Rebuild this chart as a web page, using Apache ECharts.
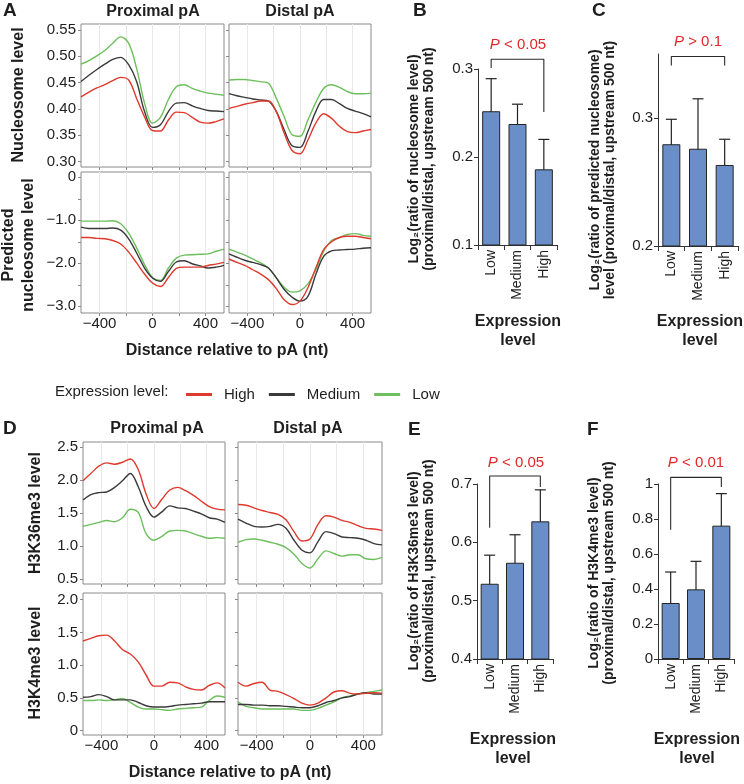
<!DOCTYPE html>
<html><head><meta charset="utf-8">
<script src="https://cdn.jsdelivr.net/npm/echarts@6/dist/echarts.min.js"></script>
<style>html,body{margin:0;padding:0;background:#fff}#c{width:744px;height:784px}</style>
</head><body><div id="c"></div>
<script>
// ---------- data ----------
const xs = [-540,-480,-420,-360,-300,-240,-180,-120,-60,0,60,120,180,240,300,360,420,480,540];
const levels = ['Low','Medium','High'];
const xTickVals = [-400,-200,0,200,400];
const xLabelVals = [-400,0,400];

// A: nucleosome level
const nucProxHigh = [0.423,0.432,0.440,0.446,0.454,0.460,0.455,0.420,0.385,0.359,0.358,0.379,0.394,0.393,0.384,0.375,0.373,0.376,0.381];
const nucProxMed  = [0.452,0.464,0.475,0.485,0.494,0.498,0.484,0.452,0.395,0.365,0.370,0.395,0.411,0.412,0.406,0.401,0.397,0.396,0.395];
const nucProxLow  = [0.485,0.492,0.501,0.511,0.525,0.537,0.525,0.477,0.411,0.373,0.384,0.418,0.442,0.446,0.439,0.434,0.430,0.428,0.426];
const nucDistHigh = [0.401,0.405,0.409,0.412,0.415,0.415,0.395,0.354,0.321,0.315,0.341,0.373,0.391,0.382,0.367,0.357,0.355,0.358,0.361];
const nucDistMed  = [0.429,0.425,0.422,0.419,0.417,0.415,0.395,0.360,0.330,0.327,0.357,0.395,0.418,0.418,0.410,0.401,0.396,0.391,0.385];
const nucDistLow  = [0.455,0.456,0.456,0.454,0.452,0.449,0.420,0.385,0.351,0.348,0.379,0.412,0.439,0.446,0.441,0.433,0.429,0.429,0.430];
// A: predicted nucleosome level
const predProxHigh = [-1.40,-1.40,-1.42,-1.43,-1.47,-1.55,-1.74,-1.99,-2.25,-2.46,-2.54,-2.33,-2.12,-2.09,-2.09,-2.09,-2.05,-2.02,-1.98];
const predProxMed  = [-1.16,-1.19,-1.19,-1.19,-1.18,-1.23,-1.43,-1.76,-2.11,-2.34,-2.42,-2.19,-1.97,-1.94,-2.01,-2.06,-2.11,-2.09,-2.05];
const predProxLow  = [-1.02,-1.02,-1.02,-1.02,-1.01,-1.08,-1.30,-1.64,-2.03,-2.33,-2.40,-2.11,-1.88,-1.81,-1.80,-1.79,-1.78,-1.72,-1.67];
const predDistHigh = [-1.90,-1.98,-2.05,-2.15,-2.25,-2.38,-2.59,-2.85,-2.96,-2.88,-2.57,-2.11,-1.68,-1.50,-1.40,-1.37,-1.37,-1.40,-1.43];
const predDistMed  = [-1.78,-1.86,-1.93,-1.98,-2.03,-2.11,-2.34,-2.61,-2.79,-2.88,-2.77,-2.26,-1.84,-1.71,-1.69,-1.68,-1.67,-1.65,-1.64];
const predDistLow  = [-1.67,-1.74,-1.81,-1.90,-1.99,-2.11,-2.34,-2.56,-2.67,-2.64,-2.48,-2.15,-1.72,-1.47,-1.40,-1.33,-1.31,-1.35,-1.37];
// D: H3K36me3
const k36ProxHigh = [1.99,2.10,2.21,2.26,2.24,2.27,2.32,2.16,1.79,1.57,1.71,1.85,1.89,1.84,1.77,1.68,1.60,1.56,1.55];
const k36ProxMed  = [1.70,1.78,1.81,1.82,1.89,1.99,2.10,1.90,1.60,1.44,1.52,1.61,1.58,1.57,1.53,1.49,1.43,1.41,1.36];
const k36ProxLow  = [1.30,1.33,1.36,1.39,1.37,1.43,1.56,1.51,1.19,1.09,1.15,1.23,1.24,1.23,1.19,1.15,1.12,1.13,1.12];
const k36DistHigh = [1.63,1.62,1.58,1.54,1.51,1.48,1.40,1.22,1.08,1.11,1.33,1.46,1.44,1.39,1.36,1.31,1.27,1.26,1.24];
const k36DistMed  = [1.41,1.35,1.30,1.29,1.30,1.33,1.27,1.09,0.94,0.90,1.07,1.22,1.19,1.14,1.13,1.12,1.09,1.04,1.02];
const k36DistLow  = [1.06,1.10,1.11,1.09,1.06,1.03,0.98,0.88,0.74,0.67,0.81,0.93,0.89,0.85,0.87,0.87,0.81,0.80,0.83];
// D: H3K4me3
const k4ProxHigh = [1.37,1.41,1.45,1.46,1.37,1.24,1.17,1.05,0.85,0.68,0.68,0.74,0.73,0.67,0.63,0.62,0.69,0.73,0.65];
const k4ProxMed  = [0.51,0.52,0.55,0.52,0.47,0.47,0.47,0.43,0.38,0.36,0.36,0.37,0.39,0.40,0.41,0.42,0.44,0.44,0.44];
const k4ProxLow  = [0.46,0.46,0.47,0.46,0.47,0.49,0.43,0.36,0.33,0.33,0.32,0.31,0.33,0.34,0.35,0.36,0.46,0.53,0.51];
const k4DistHigh = [0.74,0.68,0.72,0.74,0.62,0.60,0.55,0.49,0.42,0.39,0.42,0.50,0.59,0.61,0.57,0.56,0.57,0.58,0.57];
const k4DistMed  = [0.40,0.40,0.39,0.39,0.38,0.38,0.37,0.36,0.35,0.35,0.38,0.43,0.46,0.50,0.52,0.56,0.58,0.56,0.56];
const k4DistLow  = [0.44,0.37,0.35,0.33,0.33,0.33,0.33,0.33,0.31,0.31,0.34,0.39,0.44,0.50,0.53,0.56,0.58,0.60,0.62];

// bar panels: means, error lows, error highs, bracket [left leg end, top, right leg end]
const barB = [0.252, 0.2375, 0.186];
const errLoB = [0.2156, 0.215, 0.151];
const errHiB = [0.289, 0.260, 0.220];
const brB = [0.301, 0.311, 0.251];
const barC = [0.2795, 0.276, 0.2633];
const errLoC = [0.259, 0.2516, 0.2424];
const errHiC = [0.299, 0.315, 0.2834];
const brC = [0.341, 0.348, 0.341];
const barE = [0.529, 0.565, 0.636];
const errLoE = [0.479, 0.517, 0.5855];
const errHiE = [0.578, 0.613, 0.690];
const brE = [0.625, 0.7137, 0.695];
const barF = [0.32, 0.398, 0.762];
const errLoF = [0.118, 0.234, 0.590];
const errHiF = [0.497, 0.558, 0.945];
const brF = [0.739, 1.038, 0.983];

// tick values
const ticksNuc = [0.30,0.35,0.40,0.45,0.50,0.55];
const ticksPred = [0,-0.5,-1,-1.5,-2,-2.5,-3];
const labelsPred = [0,-1,-2,-3];
const ticksK36 = [0.5,1.0,1.5,2.0,2.5];
const ticksK4 = [0,0.5,1.0,1.5,2.0];
const ticksC = [0.2,0.3];

// ---------- styling ----------
const FONT = '"Liberation Sans", Arial, Helvetica, sans-serif';
const RED = '#e0392e', BLK = '#3a3a3a', GRN = '#6cbf5c';
const PRED = '#e0262b';
const TXT = '#1e1e1e';
const BORDER = '#8a8a8a';
const minus = v => String(v).replace('-', '\u2212');

const gridDefs = [
  {left:81, top:24, width:143, height:143},   // 0 A top prox
  {left:229, top:24, width:142, height:143},  // 1 A top dist
  {left:81, top:172, width:143, height:141},  // 2 A bot prox
  {left:229, top:172, width:142, height:141}, // 3 A bot dist
  {left:83, top:442, width:142, height:142},  // 4 D top prox
  {left:238, top:442, width:144, height:142}, // 5 D top dist
  {left:83, top:593, width:142, height:142},  // 6 D bot prox
  {left:238, top:593, width:144, height:142}, // 7 D bot dist
  {left:478, top:69, width:79, height:176},   // 8 B
  {left:658, top:54, width:80, height:192},   // 9 C
  {left:477, top:484, width:76, height:175},  // 10 E
  {left:658, top:484, width:76, height:175}   // 11 F
];
const grids = gridDefs.map((g, i) => Object.assign({}, g, i < 8 ? {show:true, borderColor:BORDER, borderWidth:1, backgroundColor:'transparent'} : {}));

const xAxes = [], yAxes = [], series = [];

function lineXAxis(gi, showLabels) {
  xAxes.push({
    type:'value', gridIndex:gi, min:-540, max:540, position:'bottom',
    axisLine:{show:false, onZero:false},
    axisTick:{show:true, length:3, customValues:xTickVals, lineStyle:{color:BORDER}},
    axisLabel:{show:showLabels, customValues:xLabelVals, formatter:minus, fontSize:15, color:TXT, fontFamily:FONT, margin:3},
    splitLine:{show:true, lineStyle:{color:'#e8e8e8', width:1}}
  });
}
function lineYAxis(gi, min, max, ticks, labels, fmt, showLabels) {
  yAxes.push({
    type:'value', gridIndex:gi, min:min, max:max, position:'left',
    axisLine:{show:false, onZero:false},
    axisTick:{show:true, length:3, customValues:ticks, lineStyle:{color:BORDER}},
    axisLabel:{show:showLabels, customValues:labels, formatter:fmt, fontSize:15, color:TXT, fontFamily:FONT, margin:5},
    splitLine:{show:false}
  });
}
const fmt2 = v => v.toFixed(2);
const fmtPred = v => v === 0 ? '0' : minus(v.toFixed(1));
const fmt1 = v => v === 0 ? '0' : v.toFixed(1);

// line panel axes
lineXAxis(0, false); lineYAxis(0, 0.2897, 0.5614, ticksNuc, ticksNuc, fmt2, true);
lineXAxis(1, false); lineYAxis(1, 0.2897, 0.5614, ticksNuc, ticksNuc, fmt2, false);
lineXAxis(2, true);  lineYAxis(2, -3.156, 0.123, ticksPred, labelsPred, fmtPred, true);
lineXAxis(3, true);  lineYAxis(3, -3.156, 0.123, ticksPred, labelsPred, fmtPred, false);
lineXAxis(4, false); lineYAxis(4, 0.4286, 2.576, ticksK36, ticksK36, fmt1, true);
lineXAxis(5, false); lineYAxis(5, 0.4286, 2.576, ticksK36, ticksK36, fmt1, false);
lineXAxis(6, true);  lineYAxis(6, -0.067, 2.103, ticksK4, ticksK4, fmt1, true);
lineXAxis(7, true);  lineYAxis(7, -0.067, 2.103, ticksK4, ticksK4, fmt1, false);

const linePanels = [
  [nucProxHigh, nucProxMed, nucProxLow],
  [nucDistHigh, nucDistMed, nucDistLow],
  [predProxHigh, predProxMed, predProxLow],
  [predDistHigh, predDistMed, predDistLow],
  [k36ProxHigh, k36ProxMed, k36ProxLow],
  [k36DistHigh, k36DistMed, k36DistLow],
  [k4ProxHigh, k4ProxMed, k4ProxLow],
  [k4DistHigh, k4DistMed, k4DistLow]
];
const names = ['High','Medium','Low'];
const cols = [RED, BLK, GRN];
linePanels.forEach((arrs, gi) => {
  [2,1,0].forEach(k => {
    series.push({
      type:'line', name:names[k], xAxisIndex:gi, yAxisIndex:gi,
      data: xs.map((x, j) => [x, arrs[k][j]]),
      showSymbol:false, symbol:'none', smooth:0.35,
      lineStyle:{color:cols[k], width:1.4}, itemStyle:{color:cols[k]},
      silent:true
    });
  });
});

// bar panels
function barPanel(gi, vals, lo, hi, br, yCfg) {
  xAxes.push({
    type:'category', gridIndex:gi, data:levels,
    axisLine:{show:true, onZero:false, lineStyle:{color:'#333', width:1}},
    axisTick:{show:true, length:5, lineStyle:{color:'#333'}},
    axisLabel:{rotate:90, fontSize:14, color:TXT, fontFamily:FONT, margin:5}
  });
  yAxes.push(Object.assign({
    type:'value', gridIndex:gi,
    axisLine:{show:true, lineStyle:{color:'#333', width:1}},
    splitLine:{show:false}
  }, yCfg));
  const ai = xAxes.length - 1;
  series.push({
    type:'bar', xAxisIndex:ai, yAxisIndex:ai, data:vals, barWidth:18,
    itemStyle:{color:'#6a8fc8', borderColor:'#242424', borderWidth:1}, silent:true
  });
  series.push({
    type:'custom', xAxisIndex:ai, yAxisIndex:ai, silent:true,
    data: vals.map((v, i) => [i, lo[i], hi[i]]),
    encode:{x:0, y:[1,2]},
    renderItem: function(params, api) {
      const a = api.coord([api.value(0), api.value(1)]);
      const b = api.coord([api.value(0), api.value(2)]);
      const hw = 5.5, st = {stroke:'#222', lineWidth:1.2};
      return {type:'group', children:[
        {type:'line', shape:{x1:a[0], y1:a[1], x2:b[0], y2:b[1]}, style:st},
        {type:'line', shape:{x1:a[0]-hw, y1:a[1], x2:a[0]+hw, y2:a[1]}, style:st},
        {type:'line', shape:{x1:b[0]-hw, y1:b[1], x2:b[0]+hw, y2:b[1]}, style:st}
      ]};
    }
  });
  series.push({
    type:'line', xAxisIndex:ai, yAxisIndex:ai, silent:true, clip:false,
    data:[[0, br[0]], [0, br[1]], [2, br[1]], [2, br[2]]],
    symbol:'none', lineStyle:{color:'#2a2a2a', width:1.1}
  });
}
const barLab = {fontSize:15, color:TXT, fontFamily:FONT, margin:5};
barPanel(8, barB, errLoB, errHiB, brB, {min:0.1, max:0.3, interval:0.1,
  axisTick:{show:true, length:4, lineStyle:{color:'#333'}},
  axisLabel:Object.assign({formatter:v => v.toFixed(1)}, barLab)});
barPanel(9, barC, errLoC, errHiC, brC, {min:0.2, max:0.35,
  axisTick:{show:true, length:4, customValues:ticksC, lineStyle:{color:'#333'}},
  axisLabel:Object.assign({customValues:ticksC, formatter:v => v.toFixed(1)}, barLab)});
barPanel(10, barE, errLoE, errHiE, brE, {min:0.4, max:0.7, interval:0.1,
  axisTick:{show:true, length:4, lineStyle:{color:'#333'}},
  axisLabel:Object.assign({formatter:v => v.toFixed(1)}, barLab)});
barPanel(11, barF, errLoF, errHiF, brF, {min:0, max:1, interval:0.2,
  axisTick:{show:true, length:4, lineStyle:{color:'#333'}},
  axisLabel:Object.assign({formatter:v => (v === 0 || v === 1) ? String(v) : v.toFixed(1)}, barLab)});

// ---------- text ----------
function T(x, y, text, size, bold, opts) {
  opts = opts || {};
  return {
    type:'text', x:x, y:y, rotation: opts.rot ? Math.PI/2 : 0, silent:true,
    style:{text:text, fontSize:size, fontWeight: bold ? 'bold' : 'normal', fontFamily:FONT,
      fill: opts.fill || TXT, align: opts.align || 'center', verticalAlign:'middle',
      lineHeight: opts.lh || Math.round(size*1.2), rich: opts.rich}
  };
}
function P(x, y, rest) {
  return T(x, y, '{i|P}' + rest, 15, false, {fill:PRED,
    rich:{i:{fontStyle:'italic', fontSize:15, fontFamily:FONT, fill:PRED}}});
}
const graphics = [
  T(3, 11, 'A', 19, true, {align:'left'}),
  T(153, 12, 'Proximal pA', 16, true),
  T(300, 12, 'Distal pA', 16, true),
  T(19, 95, 'Nucleosome level', 16, true, {rot:true}),
  T(19, 245, 'Predicted\nnucleosome level', 16, true, {rot:true, lh:20}),
  T(227, 351, 'Distance relative to pA (nt)', 16, true),
  T(55, 392, 'Expression level:', 15, false, {align:'left'}),
  T(413, 11, 'B', 19, true, {align:'left'}),
  T(592, 11, 'C', 19, true, {align:'left'}),
  T(421.5, 159, 'Log\u2082(ratio of nucleosome level)\n(proximal/distal, upstream 500 nt)', 14, true, {rot:true, lh:15}),
  T(603, 170, 'Log\u2082(ratio of predicted nucleosome)\nlevel (proximal/distal, upstream 500 nt)', 14, true, {rot:true, lh:15}),
  T(518, 331, 'Expression\nlevel', 16, true, {lh:19}),
  T(700, 331, 'Expression\nlevel', 16, true, {lh:19}),
  P(518, 45, ' < 0.05'),
  P(698, 42, ' > 0.1'),
  T(3, 429, 'D', 19, true, {align:'left'}),
  T(157, 429, 'Proximal pA', 16, true),
  T(308, 429, 'Distal pA', 16, true),
  T(36, 513, 'H3K36me3 level', 16, true, {rot:true}),
  T(36, 663, 'H3K4me3 level', 16, true, {rot:true}),
  T(230, 773, 'Distance relative to pA (nt)', 16, true),
  T(408, 430, 'E', 19, true, {align:'left'}),
  T(587, 430, 'F', 19, true, {align:'left'}),
  T(421.5, 571, 'Log\u2082(ratio of H3K36me3 level)\n(proximal/distal, upstream 500 nt)', 14, true, {rot:true, lh:15}),
  T(602, 573, 'Log\u2082(ratio of H3K4me3 level)\n(proximal/distal, upstream 500 nt)', 14, true, {rot:true, lh:15}),
  T(513, 749, 'Expression\nlevel', 16, true, {lh:19}),
  T(697, 749, 'Expression\nlevel', 16, true, {lh:19}),
  P(516, 463, ' < 0.05'),
  P(696, 463, ' < 0.01')
];

const chart = echarts.init(document.getElementById('c'), null, {renderer:'canvas'});
chart.setOption({
  animation:false,
  backgroundColor:'#fff',
  textStyle:{fontFamily:FONT},
  legend:{
    data:names, left:181, top:382, icon:'rect', itemWidth:26, itemHeight:3, itemGap:14,
    textStyle:{fontSize:15, color:TXT, fontFamily:FONT, padding:[0,0,0,7]},
    selectedMode:false
  },
  grid:grids, xAxis:xAxes, yAxis:yAxes, series:series, graphic:graphics
});
</script>
</body></html>
